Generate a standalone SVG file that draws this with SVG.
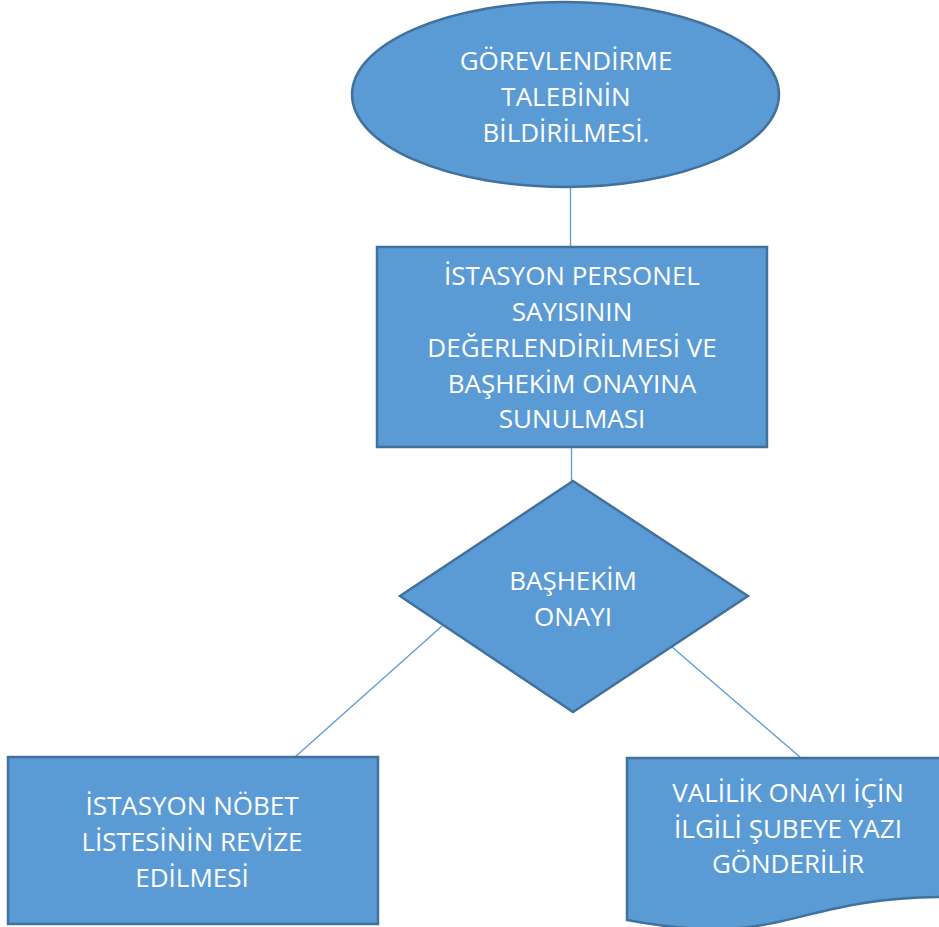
<svg xmlns="http://www.w3.org/2000/svg" width="939" height="927" viewBox="0 0 939 927">
  <style>
    .shape { fill: #5B9BD5; stroke: #41719C; stroke-width: 2.5; }
    .link { stroke: #5B9BD5; stroke-width: 1.3; fill: none; }
    .label { fill: #FFFFFF; font-family: "Open Sans", "Liberation Sans", sans-serif; font-size: 26px; text-anchor: middle; }
  </style>
  <rect width="939" height="927" fill="#FFFFFF"/>

  <g id="connectors">
    <line class="link" x1="570.5" y1="187" x2="570.5" y2="247"/>
    <line class="link" x1="571.5" y1="447" x2="571.5" y2="481"/>
    <line class="link" x1="442" y1="626" x2="295" y2="757"/>
    <line class="link" x1="672" y1="647" x2="800" y2="757"/>
  </g>

  <g id="start">
    <ellipse class="shape" cx="565.5" cy="94.5" rx="213.5" ry="92.5"/>
    <text class="label" x="566" y="70">GÖREVLENDİRME</text>
    <text class="label" x="566" y="106">TALEBİNİN</text>
    <text class="label" x="566" y="142">BİLDİRİLMESİ.</text>
  </g>

  <g id="evaluate">
    <rect class="shape" x="377" y="247" width="390" height="200"/>
    <text class="label" x="572" y="285">İSTASYON PERSONEL</text>
    <text class="label" x="572" y="321">SAYISININ</text>
    <text class="label" x="572" y="357">DEĞERLENDİRİLMESİ VE</text>
    <text class="label" x="572" y="393">BAŞHEKİM ONAYINA</text>
    <text class="label" x="572" y="428">SUNULMASI</text>
  </g>

  <g id="decision">
    <polygon class="shape" points="573,481 748,596 573,712 400,596"/>
    <text class="label" x="573" y="590">BAŞHEKİM</text>
    <text class="label" x="573" y="626">ONAYI</text>
  </g>

  <g id="revise">
    <rect class="shape" x="8" y="757" width="370" height="167"/>
    <text class="label" x="192" y="815">İSTASYON NÖBET</text>
    <text class="label" x="192" y="851">LİSTESİNİN REVİZE</text>
    <text class="label" x="192" y="887">EDİLMESİ</text>
  </g>

  <g id="letter">
    <path class="shape" d="M627,758 H949 V897 C788,897 788,950 627,920 Z"/>
    <text class="label" x="788" y="802">VALİLİK ONAYI İÇİN</text>
    <text class="label" x="788" y="838">İLGİLİ ŞUBEYE YAZI</text>
    <text class="label" x="788" y="873">GÖNDERİLİR</text>
  </g>
</svg>
